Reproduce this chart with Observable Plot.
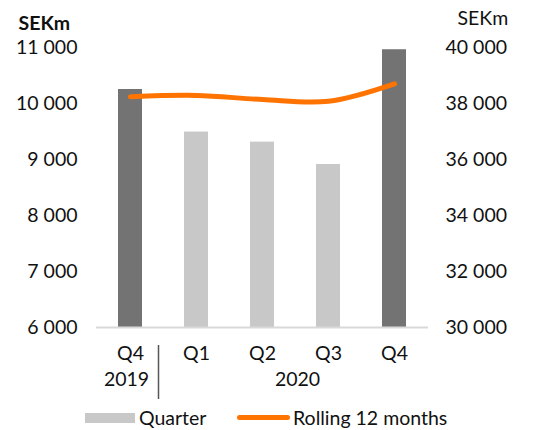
<!DOCTYPE html>
<html><head><meta charset="utf-8">
<script src="https://cdn.jsdelivr.net/npm/d3@7"></script>
<script src="https://cdn.jsdelivr.net/npm/@observablehq/plot@0.6"></script>
<style>
html,body{margin:0;background:#fff;overflow:hidden;}
body{font-family:Lato, "Open Sans", sans-serif;color:#111;}
#legend{position:relative;height:30px;font-size:19.5px;}
.sw{position:absolute;}
.lt{position:absolute;top:0;line-height:20px;}
</style></head><body>
<div id="chart"></div>
<div id="legend">
  <div class="sw" style="left:85px;top:13px;width:50px;height:10px;background:#c8c8c8"></div>
  <div class="lt" style="left:139px;top:8px">Quarter</div>
  <div class="sw" style="left:237px;top:15px;width:53px;height:5px;border-radius:3px;background:#ff7300"></div>
  <div class="lt" style="left:293px;top:8px">Rolling 12 months</div>
</div>
<script>
const categories = ["Q4 2019", "Q1 2020", "Q2 2020", "Q3 2020", "Q4 2020"];
const quarterLabels = ["Q4", "Q1", "Q2", "Q3", "Q4"];
const highlighted = [true, false, false, false, true];
const quarter = [10250, 9490, 9310, 8910, 10960];
const rolling12 = [38240, 38290, 38140, 38080, 38700];
const leftTicks = [6000, 7000, 8000, 9000, 10000, 11000];
const rightTicks = [30000, 32000, 34000, 36000, 38000, 40000];

const fmt = v => d3.format(",")(v).replace(/,/g, " ");
const toLeft = v => 6000 + (v - 30000) / 2;
const fromLeft = v => 30000 + (v - 6000) * 2;

const bars = categories.map((c, i) => ({category: c, value: quarter[i], highlight: highlighted[i]}));
const line = categories.map((c, i) => ({category: c, value: rolling12[i]}));

const chart = Plot.plot({
  width: 544, height: 400,
  marginTop: 47, marginBottom: 73, marginLeft: 96, marginRight: 116,
  style: {fontFamily: "Lato, sans-serif", fontSize: "19.5px", color: "#111", background: "white"},
  x: {domain: categories, paddingInner: 0.64, paddingOuter: 0.32, axis: null},
  y: {domain: [6000, 11000], axis: null},
  marks: [
    Plot.axisY({ticks: leftTicks, tickSize: 0, tickPadding: 19, tickFormat: fmt, label: null}),
    Plot.axisY({anchor: "right", ticks: rightTicks.map(toLeft), tickSize: 0, tickPadding: 17, tickFormat: v => fmt(fromLeft(v)), label: null}),
    Plot.barY(bars, {x: "category", y1: 6000, y2: "value", fill: d => d.highlight ? "#737373" : "#c8c8c8"}),
    Plot.ruleY([6000], {stroke: "#d9d9d9", strokeWidth: 2}),
    Plot.lineY(line, {x: "category", y: d => toLeft(d.value), stroke: "#ff7300", strokeWidth: 5, curve: "catmull-rom", strokeLinecap: "round"}),
    Plot.axisX({tickSize: 0, tickPadding: 19, tickFormat: d => quarterLabels[categories.indexOf(d)], label: null}),
    Plot.text([{category: "Q4 2019", label: "2019"}], {x: "category", text: "label", frameAnchor: "bottom", lineAnchor: "middle", dy: 52, dx: -4}),
    Plot.text([{category: "Q2 2020", label: "2020"}], {x: "category", text: "label", frameAnchor: "bottom", lineAnchor: "middle", dy: 52, dx: 35}),
    Plot.ruleX(["Q4 2019"], {x: d => d, dx: 28, dy: 72, insetTop: 226, stroke: "#555", strokeWidth: 1.5}),
    Plot.text(["SEKm"], {frameAnchor: "top-left", textAnchor: "start", lineAnchor: "middle", dx: -78, dy: -24, fontWeight: "bold"}),
    Plot.text(["SEKm"], {frameAnchor: "top-right", textAnchor: "start", lineAnchor: "middle", dx: 29, dy: -29})
  ]
});
document.getElementById("chart").appendChild(chart);
</script>
</body></html>
